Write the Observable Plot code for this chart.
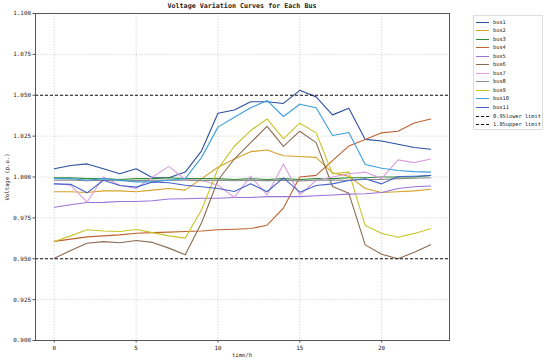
<!DOCTYPE html>
<html>
<head>
<meta charset="utf-8">
<script src="https://cdn.jsdelivr.net/npm/d3@7"></script>
<script src="https://cdn.jsdelivr.net/npm/@observablehq/plot@0.6"></script>
<style>
  html, body { margin: 0; padding: 0; background: #fff; }
  #wrap { position: relative; width: 550px; height: 362px; font-family: "DejaVu Sans Mono", monospace; }
  #title { position: absolute; left: 35px; width: 414px; top: 2px; text-align: center; font-size: 6.7px; font-weight: bold; color: #222; }
  #ylab { position: absolute; left: 7px; top: 177px; transform: translate(-50%, -50%) rotate(-90deg); font-size: 5.6px; color: #222; white-space: nowrap; }
  #xlab { position: absolute; left: 242px; top: 352px; transform: translateX(-50%); font-size: 5.6px; color: #222; }
  #legend { position: absolute; left: 473px; top: 15px; width: 70px; height: 115px; border: 1px solid #ddd; box-sizing: border-box; background: #fff; }
  .li { position: absolute; left: 0; height: 8px; width: 70px; }
  .li .sw { position: absolute; left: 2px; top: 3px; width: 13px; height: 0; }
  .li .tx { position: absolute; left: 19px; top: 0; font-size: 5.3px; line-height: 7px; color: #222; white-space: nowrap; }
  svg { position: absolute; left: 0; top: 0; }
</style>
</head>
<body>
<div id="wrap">
  <div id="title">Voltage Variation Curves for Each Bus</div>
  <div id="ylab">Voltage (p.u.)</div>
  <div id="xlab">time/h</div>
  <div id="legend"></div>
</div>
<script>
// ---- data ----
const hours = [0,1,2,3,4,5,6,7,8,9,10,11,12,13,14,15,16,17,18,19,20,21,22,23];
const busNames = ["bus1","bus2","bus3","bus4","bus5","bus6","bus7","bus8","bus9","bus10","bus11"];
const busColors = ["#2c4f9e","#d6a12a","#2e8b3a","#c0622e","#9a72d8","#8c6b52","#dc9ee0","#8a8a8a","#c9c428","#3c9fdc","#4462cc"];
const bus1  = [1.005,1.007,1.008,1.005,1.002,1.005,0.9995,0.9995,1.003,1.016,1.039,1.041,1.046,1.046,1.045,1.053,1.049,1.038,1.042,1.023,1.022,1.020,1.018,1.017];
const bus2  = [0.991,0.991,0.9905,0.9915,0.9915,0.991,0.992,0.993,0.992,0.999,1.006,1.011,1.0155,1.0165,1.013,1.0125,1.012,1.0025,1.0005,0.993,0.9905,0.991,0.9915,0.9925];
const bus3  = [0.9995,0.9995,0.999,0.999,0.9985,0.999,0.999,0.9995,0.999,0.999,0.999,0.9985,0.999,0.9985,0.999,0.9985,0.999,0.999,0.9995,0.9995,1.000,1.000,1.000,1.001];
const bus4  = [0.9606,0.962,0.9634,0.964,0.9646,0.9656,0.966,0.9663,0.9667,0.967,0.9677,0.968,0.9685,0.9705,0.981,1.000,1.001,1.010,1.019,1.023,1.027,1.028,1.033,1.0355];
const bus5  = [0.9815,0.983,0.9844,0.9845,0.985,0.985,0.9855,0.9865,0.9867,0.987,0.987,0.9875,0.9875,0.988,0.988,0.988,0.9885,0.989,0.9895,0.9898,0.9905,0.993,0.994,0.9945];
const bus6  = [0.9503,0.955,0.9595,0.9605,0.9598,0.9612,0.960,0.9565,0.9524,0.972,0.998,1.011,1.021,1.031,1.0187,1.028,1.021,0.9942,0.990,0.9585,0.9528,0.950,0.954,0.9585];
const bus7  = [0.996,0.995,0.9846,1.000,0.995,0.993,1.000,1.0065,0.9985,0.998,0.995,0.9875,1.0005,0.989,1.008,0.989,0.998,1.000,1.002,1.003,0.999,1.0105,1.0088,1.011];
const bus8  = [0.998,0.9982,0.9978,0.998,0.9977,0.9978,0.998,0.9982,0.998,0.9978,0.998,0.9977,0.998,0.9978,0.998,0.9976,0.998,0.9982,0.998,0.9985,0.9985,0.999,0.9992,0.9995];
const bus9  = [0.9606,0.964,0.9677,0.967,0.9667,0.9679,0.966,0.964,0.9626,0.980,1.005,1.0188,1.0284,1.0355,1.0235,1.0329,1.027,1.002,1.003,0.9703,0.9656,0.9632,0.9655,0.9683];
const bus10 = [0.999,0.999,0.998,0.999,0.998,0.997,0.997,0.998,0.999,1.012,1.0305,1.0366,1.0423,1.0468,1.037,1.0445,1.0424,1.0254,1.0272,1.0076,1.0054,1.004,1.0033,1.003];
const bus11 = [0.9958,0.9955,0.9903,0.998,0.9948,0.9938,0.997,0.9965,0.995,0.994,0.993,0.9911,0.9958,0.991,0.9995,0.9907,0.9948,0.9958,0.9979,0.9989,0.9958,1.0003,1.0005,1.0009];
const busValues = [bus1,bus2,bus3,bus4,bus5,bus6,bus7,bus8,bus9,bus10,bus11];
const lowerLimit = 0.95, upperLimit = 1.05;
const limitNames = ["0.95lower limit","1.05upper limit"];
const xTicks = [0,5,10,15,20];
const yTicks = [0.900,0.925,0.950,0.975,1.000,1.025,1.050,1.075,1.100];

// long-format table built from the arrays
const rows = [];
busNames.forEach((name, i) => {
  hours.forEach((h, j) => rows.push({bus: name, hour: h, v: busValues[i][j]}));
});
const limits = [{y: lowerLimit}, {y: upperLimit}];

const chart = Plot.plot({
  width: 550,
  height: 362,
  marginLeft: 35,
  marginRight: 101,
  marginTop: 13,
  marginBottom: 22,
  style: {fontFamily: "DejaVu Sans Mono, monospace", fontSize: "5.9px", color: "#222", background: "transparent"},
  x: {domain: [-1.15, 24.15], label: null},
  y: {domain: [0.9, 1.1], label: null},
  color: {domain: busNames, range: busColors},
  marks: [
    Plot.gridX(xTicks, {stroke: "#bbb", strokeOpacity: 1, strokeDasharray: "1.2,1.6", strokeWidth: 0.6}),
    Plot.gridY(yTicks, {stroke: "#bbb", strokeOpacity: 1, strokeDasharray: "1.2,1.6", strokeWidth: 0.6}),
    Plot.line(rows, {x: "hour", y: "v", z: "bus", stroke: "bus", strokeWidth: 1.1}),
    Plot.ruleY(limits, {y: "y", stroke: "#111", strokeWidth: 1.2, strokeDasharray: "3,2"}),
    Plot.frame({stroke: "#555", strokeWidth: 1}),
    Plot.axisX(xTicks, {tickSize: 2.5, tickPadding: 3, tickFormat: d3.format("d"), stroke: "#555"}),
    Plot.axisY(yTicks, {tickSize: 2.5, tickPadding: 2, tickFormat: d3.format(".3f"), stroke: "#555"})
  ]
});
document.getElementById("wrap").appendChild(chart);

// legend
const legend = document.getElementById("legend");
const items = busNames.map((n, i) => ({name: n, color: busColors[i], dash: false}))
  .concat(limitNames.map(n => ({name: n, color: "#111", dash: true})));
items.forEach((it, k) => {
  const d = document.createElement("div");
  d.className = "li";
  d.style.top = (2.5 + k * 8.55) + "px";
  const sw = document.createElement("div");
  sw.className = "sw";
  sw.style.borderTop = (it.dash ? "1.2px dashed " : "1.2px solid ") + it.color;
  const tx = document.createElement("div");
  tx.className = "tx";
  tx.textContent = it.name;
  d.appendChild(sw); d.appendChild(tx);
  legend.appendChild(d);
});
</script>
</body>
</html>
